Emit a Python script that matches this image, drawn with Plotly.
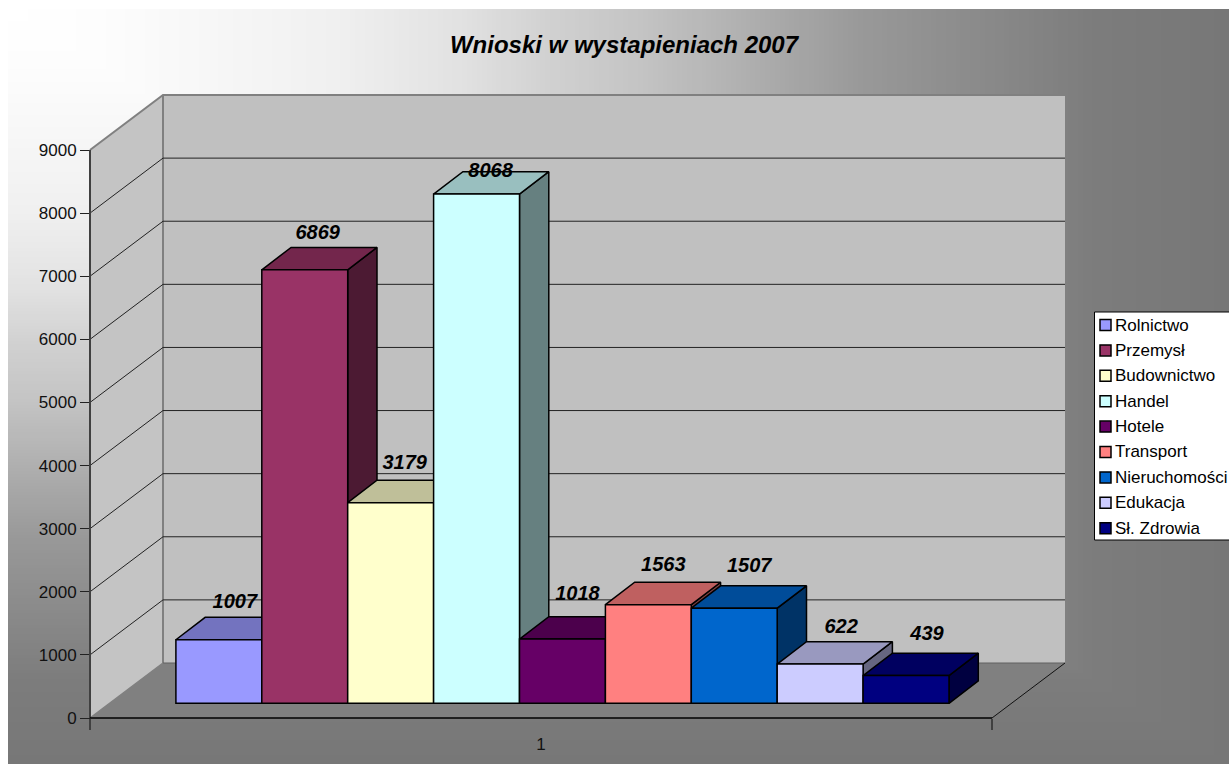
import base64
import numpy as np
import plotly.graph_objects as go

# ---- data ----
series_names = ["Rolnictwo", "Przemysł", "Budownictwo", "Handel", "Hotele",
                "Transport", "Nieruchomości", "Edukacja", "Sł. Zdrowia"]
series_values = [1007, 6869, 3179, 8068, 1018, 1563, 1507, 622, 439]
series_colors = ["#9999FF", "#993366", "#FFFFCC", "#CCFFFF", "#660066",
                 "#FF8080", "#0066CC", "#CCCCFF", "#000080"]
value_ticks = [0, 1000, 2000, 3000, 4000, 5000, 6000, 7000, 8000, 9000]
category_label = "1"
title_text = "Wnioski w wystapieniach 2007"

# ---- layout, in page px ----
FIG_W, FIG_H = 1229, 764
BG_X, BG_Y = 8, 9                       # the gradient panel starts here
PLOT_L, PLOT_R, PLOT_T, PLOT_B = 86, 1069, 91, 722
ORIGIN_X, ORIGIN_Y = 90, 718            # where value 0 meets the front-left corner
PLOT_W, PLOT_H = PLOT_R - PLOT_L, PLOT_B - PLOT_T
PX_PER_X = 85.9            # one bar width
PX_PER_Y = 568 / 9000      # one value unit
FONT = "Liberation Sans"

X_MIN, X_MAX = (PLOT_L - ORIGIN_X) / PX_PER_X, (PLOT_R - ORIGIN_X) / PX_PER_X
Y_MIN, Y_MAX = (ORIGIN_Y - PLOT_B) / PX_PER_Y, (ORIGIN_Y - PLOT_T) / PX_PER_Y
AXIS_END = 902 / PX_PER_X
WALL_DX, WALL_DY = 73 / PX_PER_X, 55 / PX_PER_Y     # depth of the chart box
BAR_DX, BAR_DY = 29.3 / PX_PER_X, 22.4 / PX_PER_Y   # depth of a bar
BAR_START = 1.0
BAR_BASE = 14.7 / PX_PER_Y
# data-label nudges from the top-front centre of each bar, in px
label_dx = [16, 13, 14, 14, 15, 15, 15, 21, 21]
label_dy = [37, 36, 39, 22, 44, 39, 41, 36, 41]

def shade(hex_color, f):
    r, g, b = (int(hex_color[i:i + 2], 16) for i in (1, 3, 5))
    return f"rgb({round(r * f)},{round(g * f)},{round(b * f)})"

def px2paper_x(px):
    return (px - PLOT_L) / PLOT_W

def px2paper_y(py):
    return 1 - (py - PLOT_T) / PLOT_H

# ---- corner gradient background ----
stops_t = [0, 0.075, 0.27, 0.37, 0.45, 0.52, 0.70, 0.894, 1]
stops_v = [255, 253, 240, 226, 208, 196, 153, 124, 119]
BG_W, BG_H = FIG_W - BG_X, FIG_H - BG_Y
rects = []
for t in np.linspace(1, 0.004, 250):
    v = int(round(np.interp(t, stops_t, stops_v)))
    rects.append(f'<rect x="0" y="0" width="{t * BG_W:.1f}" height="{t * BG_H:.1f}" '
                 f'fill="rgb({v},{v},{v})"/>')
svg = (f'<svg xmlns="http://www.w3.org/2000/svg" width="{BG_W}" height="{BG_H}" '
       f'viewBox="0 0 {BG_W} {BG_H}" preserveAspectRatio="none" shape-rendering="crispEdges">'
       + "".join(rects) + "</svg>")
bg_uri = "data:image/svg+xml;base64," + base64.b64encode(svg.encode()).decode()

fig = go.Figure()

def poly(xs, ys, fill=None, line="#000", width=1.0, z=0, name=None):
    fig.add_trace(go.Scatter(
        x=xs, y=ys, mode="lines", fill="toself" if fill else "none", fillcolor=fill,
        line=dict(color=line, width=width), cliponaxis=False, hoverinfo="skip",
        showlegend=False, zorder=z, name=name))

# floor, side wall, back wall
poly([0, AXIS_END, AXIS_END + WALL_DX, WALL_DX, 0], [0, 0, WALL_DY, WALL_DY, 0],
     fill="#808080", line="rgba(0,0,0,0)", z=1, name="floor")
poly([0, WALL_DX, WALL_DX, 0, 0], [9000, 9000 + WALL_DY, WALL_DY, 0, 9000],
     fill="#c4c4c4", line="rgba(0,0,0,0)", z=1, name="side wall")
poly([WALL_DX, AXIS_END + WALL_DX, AXIS_END + WALL_DX, WALL_DX, WALL_DX],
     [9000 + WALL_DY, 9000 + WALL_DY, WALL_DY, WALL_DY, 9000 + WALL_DY],
     fill="#c0c0c0", line="rgba(0,0,0,0)", z=1, name="back wall")
poly([0, WALL_DX, AXIS_END + WALL_DX], [9000, 9000 + WALL_DY, 9000 + WALL_DY],
     line="#808080", width=2, z=2, name="top edge")
poly([WALL_DX, WALL_DX], [9000 + WALL_DY, WALL_DY], line="#808080", width=2, z=2, name="back corner")
poly([WALL_DX, AXIS_END + WALL_DX], [WALL_DY, WALL_DY], line="#606060", width=1, z=2, name="wall foot")
poly([AXIS_END, AXIS_END + WALL_DX], [0, WALL_DY], line="#111", width=1, z=2, name="floor edge")

# gridlines
for v in value_ticks[1:-1]:
    poly([0, WALL_DX, AXIS_END + WALL_DX], [v, v + WALL_DY, v + WALL_DY],
         line="#222", width=1, z=2, name=f"grid {v}")
poly([0, WALL_DX], [0, WALL_DY], line="#808080", width=1.5, z=2, name="wall corner")

# axis lines
poly([0, 0], [0, 9000], line="#404040", width=2, z=3, name="value axis")
poly([0, AXIS_END], [0, 0], line="#000", width=1.5, z=3, name="category axis")

# bars, painted left to right: side and top first, then the front
for i, (name, val, col) in enumerate(zip(series_names, series_values, series_colors)):
    x0, x1 = BAR_START + i, BAR_START + i + 1
    top = BAR_BASE + val
    z = 10 + 2 * i
    poly([x1, x1 + BAR_DX, x1 + BAR_DX, x1, x1],
         [BAR_BASE, BAR_BASE + BAR_DY, top + BAR_DY, top, BAR_BASE],
         fill=shade(col, 0.5), width=1.5, z=z, name=name + " side")
    poly([x0, x1, x1 + BAR_DX, x0 + BAR_DX, x0],
         [top, top, top + BAR_DY, top + BAR_DY, top],
         fill=shade(col, 0.75), width=1.5, z=z, name=name + " top")
    fig.add_trace(go.Bar(
        x=[(x0 + x1) / 2], y=[val], base=BAR_BASE, width=1, name=name,
        marker=dict(color=col, line=dict(color="#000", width=1.5)),
        hovertemplate=name + ": %{y}<extra></extra>", showlegend=False, zorder=z + 1))

# data labels
fig.add_trace(go.Scatter(
    x=[BAR_START + i + 0.5 + label_dx[i] / PX_PER_X for i in range(len(series_values))],
    y=[BAR_BASE + v + label_dy[i] / PX_PER_Y for i, v in enumerate(series_values)],
    mode="text", text=[str(v) for v in series_values], textposition="middle center",
    textfont=dict(family=FONT, size=20, color="#000", weight="bold", style="italic"),
    cliponaxis=False, hoverinfo="skip", showlegend=False, zorder=100, name="labels"))

# legend box, swatches and entries
shapes = [dict(type="rect", xref="paper", yref="paper", layer="above",
               x0=px2paper_x(1094.5), x1=px2paper_x(1235), y0=px2paper_y(312), y1=px2paper_y(540),
               fillcolor="#fff", line=dict(color="#000", width=1))]
annotations = []
for i, (name, col) in enumerate(zip(series_names, series_colors)):
    cy = 325 + 25.4 * i
    shapes.append(dict(type="rect", xref="paper", yref="paper", layer="above",
                       x0=px2paper_x(1100), x1=px2paper_x(1111),
                       y0=px2paper_y(cy - 5.5), y1=px2paper_y(cy + 5.5),
                       fillcolor=col, line=dict(color="#000", width=1.5)))
    annotations.append(dict(xref="paper", yref="paper", x=px2paper_x(1113), y=px2paper_y(cy),
                            xanchor="left", yanchor="middle", text=name, showarrow=False,
                            font=dict(family=FONT, size=17, color="#000")))

fig.update_layout(
    width=FIG_W, height=FIG_H, autosize=False,
    margin=dict(l=PLOT_L, r=FIG_W - PLOT_R, t=PLOT_T, b=FIG_H - PLOT_B, pad=0, autoexpand=False),
    paper_bgcolor="#fff", plot_bgcolor="rgba(0,0,0,0)",
    barmode="overlay", showlegend=False,
    title=dict(text=title_text, xref="paper", yref="container", x=px2paper_x(624), xanchor="center",
               y=1 - 45 / FIG_H, yanchor="middle",
               font=dict(family=FONT, size=24, color="#000", weight="bold", style="italic")),
    xaxis=dict(range=[X_MIN, X_MAX], showgrid=False, zeroline=False, showline=False, automargin=False,
               anchor="free", position=(PLOT_B - ORIGIN_Y) / PLOT_H,
               tickmode="array", tickvals=[451 / PX_PER_X], ticktext=[category_label],
               ticks="outside", ticklen=11, tickcolor="rgba(0,0,0,0)",
               tickfont=dict(family=FONT, size=17, color="#111"),
               minor=dict(tickmode="array", tickvals=[0, AXIS_END], ticks="outside",
                          ticklen=11, tickcolor="#404040", tickwidth=2)),
    yaxis=dict(range=[Y_MIN, Y_MAX], showgrid=False, zeroline=False, showline=False, automargin=False,
               anchor="free", position=(ORIGIN_X - PLOT_L) / PLOT_W,
               tickmode="array", tickvals=value_ticks, ticktext=[str(v) for v in value_ticks],
               ticks="outside", ticklen=10, tickcolor="#222", tickwidth=1,
               tickfont=dict(family=FONT, size=17, color="#111")),
    images=[dict(source=bg_uri, xref="paper", yref="paper", layer="below",
                 x=px2paper_x(BG_X), y=px2paper_y(BG_Y),
                 sizex=BG_W / PLOT_W, sizey=BG_H / PLOT_H,
                 xanchor="left", yanchor="top", sizing="stretch")],
    shapes=shapes, annotations=annotations,
)

# the page's default body margin would push the figure off the window
fig.write_html("out.html", config={"displayModeBar": False},
               post_script="document.body.style.margin='0';"
                           "document.documentElement.style.overflow='hidden';")
